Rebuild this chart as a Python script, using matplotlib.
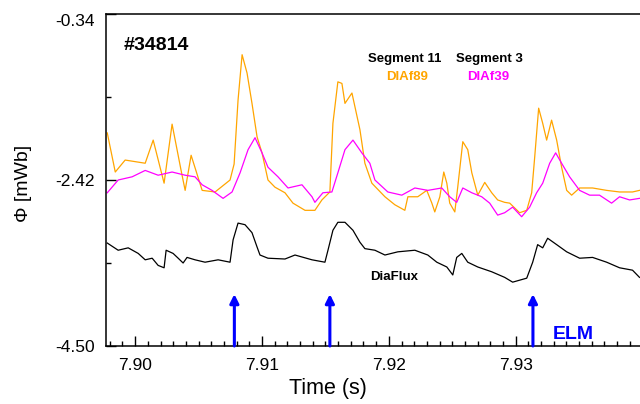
import numpy as np
import matplotlib
matplotlib.use('Agg')
import matplotlib.pyplot as plt
from matplotlib.ticker import MultipleLocator, FixedLocator

plt.rcParams['font.family'] = ['Liberation Sans', 'DejaVu Sans']

# time in ms after 7.90 s, flux in mWb
t_f89 = [-2.20, -1.57, -0.79, 0.79, 1.42, 2.28, 2.91, 3.62, 3.94, 4.41, 5.28, 6.30, 7.48, 7.80,
         8.11, 8.43, 8.82, 9.21, 9.61, 10.00, 10.47, 11.02, 11.81, 12.44, 13.39, 14.17, 14.72,
         15.35, 15.59, 15.98, 16.30, 16.54, 17.09, 17.72, 18.11, 18.66, 19.69, 20.47, 21.26,
         21.50, 22.28, 22.99, 23.39, 23.62, 24.02, 24.33, 24.57, 24.80, 25.20, 25.43, 25.83,
         26.22, 26.54, 27.01, 27.56, 28.11, 28.58, 29.13, 29.53, 30.31, 30.87, 31.26, 31.50,
         31.81, 32.13, 32.44, 32.83, 33.23, 33.62, 34.02, 34.41, 35.04, 36.06, 37.17, 38.19,
         39.21, 39.76]
f89 = [-1.83, -2.32, -2.17, -2.21, -1.92, -2.46, -1.72, -2.30, -2.55, -2.11, -2.55, -2.57, -2.42, -2.22,
       -1.42, -0.85, -1.08, -1.46, -1.88, -2.08, -2.42, -2.51, -2.58, -2.71, -2.80, -2.80, -2.67,
       -2.57, -1.71, -1.19, -1.21, -1.46, -1.33, -1.79, -2.21, -2.46, -2.63, -2.73, -2.80,
       -2.63, -2.63, -2.55, -2.71, -2.82, -2.63, -2.32, -2.46, -2.71, -2.82, -2.51, -1.94,
       -2.04, -2.33, -2.61, -2.45, -2.58, -2.67, -2.70, -2.71, -2.83, -2.80, -2.58, -2.13,
       -1.52, -1.71, -1.92, -1.67, -1.92, -2.26, -2.55, -2.61, -2.52, -2.52, -2.55, -2.57,
       -2.57, -2.55]

t_f39 = [-2.20, -1.34, -0.24, 0.79, 1.81, 2.91, 3.94, 4.72, 5.28, 6.06, 6.93, 7.64, 8.27, 8.90,
         9.45, 10.00, 10.47, 11.26, 12.05, 13.15, 13.94, 14.17, 14.80, 15.51, 15.98, 16.54,
         17.17, 17.87, 18.50, 18.90, 19.92, 21.02, 22.05, 23.07, 24.17, 24.80, 25.35, 25.83,
         26.54, 27.32, 27.95, 28.58, 29.13, 29.76, 30.47, 31.10, 31.65, 32.13, 32.68, 33.15,
         33.62, 34.25, 35.04, 35.83, 36.61, 37.56, 38.19, 38.98, 39.76]
f39 = [-2.58, -2.42, -2.38, -2.30, -2.36, -2.32, -2.36, -2.38, -2.48, -2.55, -2.65, -2.57, -2.33, -2.04,
       -1.89, -2.08, -2.26, -2.38, -2.52, -2.48, -2.63, -2.70, -2.58, -2.57, -2.33, -2.04,
       -1.92, -2.08, -2.21, -2.42, -2.57, -2.61, -2.52, -2.55, -2.52, -2.63, -2.70, -2.52,
       -2.58, -2.63, -2.71, -2.86, -2.83, -2.76, -2.88, -2.76, -2.58, -2.46, -2.21, -2.08,
       -2.21, -2.38, -2.55, -2.61, -2.61, -2.71, -2.63, -2.67, -2.65]

t_dia = [-2.20, -1.34, -0.55, 0.24, 0.79, 1.34, 1.81, 2.28, 2.44, 2.99, 3.39, 3.78, 4.09, 4.72,
         5.51, 6.54, 7.48, 7.72, 8.11, 8.66, 9.21, 9.61, 9.84, 10.47, 11.81, 12.60, 13.94,
         14.96, 15.20, 15.59, 15.98, 16.54, 17.17, 17.72, 18.11, 18.90, 19.69, 20.71, 22.05,
         23.07, 23.78, 24.57, 25.04, 25.35, 25.75, 26.22, 27.01, 28.11, 29.13, 29.76, 30.87,
         31.34, 31.73, 32.13, 32.52, 33.23, 34.02, 35.04, 36.06, 37.17, 38.19, 39.21, 39.76]
dia = [-3.21, -3.30, -3.27, -3.34, -3.42, -3.40, -3.49, -3.52, -3.30, -3.34, -3.40, -3.46, -3.39, -3.42,
       -3.45, -3.42, -3.45, -3.17, -2.96, -2.98, -3.08, -3.26, -3.36, -3.40, -3.41, -3.36, -3.42,
       -3.45, -3.30, -3.05, -2.95, -2.95, -3.05, -3.20, -3.28, -3.30, -3.36, -3.32, -3.30,
       -3.36, -3.45, -3.51, -3.61, -3.39, -3.34, -3.45, -3.51, -3.57, -3.64, -3.70, -3.65,
       -3.45, -3.23, -3.27, -3.15, -3.23, -3.32, -3.40, -3.39, -3.45, -3.52, -3.55, -3.64]

elm_times = [7.90782, 7.91535, 7.93136]


def to_s(ms):
    return 7.90 + np.array(ms) / 1000.0


fig = plt.figure(figsize=(6.4, 4.04), dpi=100)
ax = fig.add_axes([106 / 640, 58 / 404, 1 - 106 / 640, 332 / 404])

ax.plot(to_s(t_dia), dia, color='black', lw=0.9)
ax.plot(to_s(t_f89), f89, color='#ffa500', lw=0.9)
ax.plot(to_s(t_f39), f39, color='#ff00ff', lw=0.9)

for te in elm_times:
    ax.annotate('', xy=(te, -3.85), xytext=(te, -4.50),
                arrowprops=dict(arrowstyle='-|>', color='#0000ff', lw=2.2,
                                mutation_scale=13, shrinkA=0, shrinkB=0))

ax.set_xlim(7.8977, 7.9398)
ax.set_ylim(-4.50, -0.34)

ax.xaxis.set_major_locator(MultipleLocator(0.01))
ax.xaxis.set_minor_locator(MultipleLocator(0.001))
ax.yaxis.set_major_locator(FixedLocator([-4.50, -2.42, -0.34]))
ax.yaxis.set_minor_locator(FixedLocator([-3.46, -1.38]))
ax.xaxis.set_major_formatter(matplotlib.ticker.FormatStrFormatter('%.2f'))
ax.yaxis.set_major_formatter(matplotlib.ticker.FormatStrFormatter('%.2f'))
ax.tick_params(which='both', direction='in', labelsize=12.5, top=False, right=False)
ax.tick_params(which='major', length=7, width=1)
ax.tick_params(which='minor', length=3.5, width=1)
ax.tick_params(axis='x', pad=9)
ax.tick_params(axis='y', pad=8)
ax.spines['right'].set_visible(False)
for s in ['left', 'bottom', 'top']:
    ax.spines[s].set_linewidth(1.1)

# top label sits just under the frame in the original
ax.yaxis.get_major_ticks()[2].label1.set_verticalalignment('top')

ax.set_xlabel('Time (s)', fontsize=15.5)
ax.xaxis.set_label_coords((328 - 106) / 534, -0.095)
ax.set_ylabel('Φ [mWb]', fontsize=14)
ax.yaxis.set_label_coords(-0.138, 0.49)

ax.text(7.89906, -0.73, '#34814', fontsize=14, fontweight='bold', va='center', ha='left')
ax.text(7.92126, -0.90, 'Segment 11', fontsize=9.5, fontweight='bold', ha='center', va='center')
ax.text(7.92794, -0.90, 'Segment 3', fontsize=9.5, fontweight='bold', ha='center', va='center')
ax.text(7.92142, -1.13, 'DIAf89', fontsize=9.5, fontweight='bold', color='#ffa500',
        ha='center', va='center')
ax.text(7.92787, -1.13, 'DIAf39', fontsize=9.5, fontweight='bold', color='#ff00ff',
        ha='center', va='center')
ax.text(7.92039, -3.64, 'DiaFlux', fontsize=9.5, fontweight='bold', ha='center', va='center')
ax.text(7.93291, -4.36, 'ELM', fontsize=14, fontweight='bold', color='#0000ff',
        ha='left', va='center')

fig.savefig('out.png', dpi=100)
